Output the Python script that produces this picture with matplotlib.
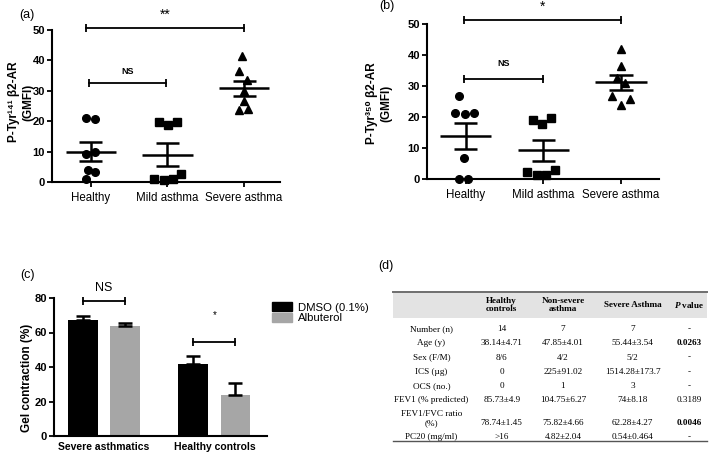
import numpy as np
import matplotlib
matplotlib.use('Agg')
import matplotlib.pyplot as plt
from matplotlib.patches import Rectangle, Patch

plt.rcParams['font.family'] = ['Liberation Sans', 'DejaVu Sans']
plt.rcParams['mathtext.fontset'] = 'custom'
plt.rcParams['mathtext.it'] = 'Liberation Serif:italic:bold'
plt.rcParams['mathtext.rm'] = 'Liberation Serif:bold'

# ---- data ----
groups = ['Healthy', 'Mild asthma', 'Severe asthma']
tyr141_healthy = [21.1, 20.8, 9.2, 9.8, 4.0, 3.4, 1.1]
tyr141_mild = [19.6, 18.7, 19.9, 2.5, 1.1, 0.5, 0.9]
tyr141_severe = [41.5, 36.4, 33.7, 30.0, 26.7, 23.6, 24.0]
tyr350_healthy = [26.7, 21.4, 20.9, 21.4, 6.7, 0.0, 0.0]
tyr350_mild = [19.1, 17.6, 19.8, 2.1, 1.4, 1.4, 3.0]
tyr350_severe = [41.8, 36.5, 32.5, 31.0, 26.7, 25.9, 24.0]

gel_groups = ['Severe asthmatics', 'Healthy controls']
dmso = [67.3, 41.9]
dmso_err = [2.5, 4.3]
albuterol = [63.5, 24.0]
albuterol_err = [1.9, 7.0]

table_header = ['Healthy\ncontrols', 'Non-severe\nasthma', 'Severe Asthma', '$P$ value']
row_labels = ['Number (n)', 'Age (y)', 'Sex (F/M)', 'ICS (µg)', 'OCS (no.)',
              'FEV1 (% predicted)', 'FEV1/FVC ratio\n(%)', 'PC20 (mg/ml)']
col_healthy = ['14', '38.14±4.71', '8/6', '0', '0', '85.73±4.9', '78.74±1.45', '>16']
col_nonsevere = ['7', '47.85±4.01', '4/2', '225±91.02', '1', '104.75±6.27', '75.82±4.66', '4.82±2.04']
col_severe = ['7', '55.44±3.54', '5/2', '1514.28±173.7', '3', '74±8.18', '62.28±4.27', '0.54±0.464']
col_p = ['-', '0.0263', '-', '-', '-', '0.3189', '0.0046', '-']
bold_p = ['0.0263', '0.0046']

# horizontal scatter spread (category units)
spread_a = [[-0.06, 0.06, -0.06, 0.06, -0.04, 0.06, -0.06],
            [-0.11, 0.01, 0.12, 0.18, -0.17, -0.05, 0.07],
            [-0.02, -0.07, 0.04, 0.0, 0.0, -0.07, 0.05]]
spread_b = [[-0.08, -0.14, -0.01, 0.11, -0.02, -0.08, 0.03],
            [-0.14, -0.02, 0.10, -0.21, -0.08, 0.03, 0.15],
            [0.0, 0.0, -0.05, 0.05, -0.12, 0.11, 0.0]]

W, H = 709, 453
fig = plt.figure(figsize=(W / 100, H / 100), dpi=100)


def box(l, r, top, bottom):
    return [l / W, 1 - bottom / H, (r - l) / W, (bottom - top) / H]


def px(x, y):
    return x / W, 1 - y / H


def style_axes(ax, xsize, xweight):
    for s in ['top', 'right']:
        ax.spines[s].set_visible(False)
    for s in ['left', 'bottom']:
        ax.spines[s].set_linewidth(1.5)
    ax.tick_params(direction='out', length=3.5, width=1.3, pad=1.5)
    ax.tick_params(axis='y', labelsize=8)
    ax.tick_params(axis='x', labelsize=xsize, pad=4)
    for t in ax.get_yticklabels():
        t.set_fontweight('bold')
    for t in ax.get_xticklabels():
        t.set_fontweight(xweight)


def bracket(ax, x1, x2, y, text, ty, size, weight='normal'):
    ax.plot([x1, x2], [y, y], color='black', lw=1.3, marker='|', ms=6, mew=1.3, clip_on=False)
    ax.text((x1 + x2) / 2, ty, text, ha='center', va='center', fontsize=size,
            fontweight=weight, clip_on=False)


def scatter_panel(ax, data, spread):
    markers = ['o', 's', '^']
    for i, vals in enumerate(data):
        vals = np.array(vals)
        ax.plot(i + np.array(spread[i]), vals, ls='none', marker=markers[i],
                ms=5.5, color='black', clip_on=False, zorder=3)
        m = vals.mean()
        sem = vals.std(ddof=1) / np.sqrt(len(vals))
        ax.hlines(m, i - 0.33, i + 0.33, color='black', lw=1.8, zorder=4)
        ax.vlines(i, m - sem, m + sem, color='black', lw=1.8, zorder=4)
        ax.hlines([m - sem, m + sem], i - 0.15, i + 0.15, color='black', lw=1.8, zorder=4)
    ax.set_xticks(range(len(groups)))
    ax.set_xticklabels(groups)
    ax.set_ylim(0, 50)
    ax.set_yticks([0, 10, 20, 30, 40, 50])
    style_axes(ax, 8.3, 'normal')


# ---- (a) ----
axa = fig.add_axes(box(52, 280, 30, 182))
scatter_panel(axa, [tyr141_healthy, tyr141_mild, tyr141_severe], spread_a)
axa.set_xlim(-0.508, 2.47)
bracket(axa, -0.06, 2.0, 50.5, '**', 54.9, 10)
bracket(axa, -0.03, 0.98, 32.6, 'NS', 36.5, 6.5, 'bold')
fig.text(*px(21, 102), 'P-Tyr¹⁴¹ β2-AR\n(GMFI)', rotation=90, ha='center', va='center',
         fontsize=8.5, fontweight='bold', multialignment='center')
fig.text(*px(27, 15), '(a)', ha='center', va='center', fontsize=9)

# ---- (b) ----
axb = fig.add_axes(box(427, 659, 24, 179))
scatter_panel(axb, [tyr350_healthy, tyr350_mild, tyr350_severe], spread_b)
axb.set_xlim((427 - 465.7) / 77.7, (659 - 465.7) / 77.7)
bracket(axb, -0.02, 2.0, 51.2, '*', 55.5, 10)
bracket(axb, -0.02, 1.0, 32.4, 'NS', 37.1, 6.5, 'bold')
fig.text(*px(379, 103), 'P-Tyr³⁵⁰ β2-AR\n(GMFI)', rotation=90, ha='center', va='center',
         fontsize=8.5, fontweight='bold', multialignment='center')
fig.text(*px(387, 6), '(b)', ha='center', va='center', fontsize=9)

# ---- (c) ----
axc = fig.add_axes(box(54, 267, 298, 436))
xc = np.arange(len(gel_groups))
off, bw = 0.19, 0.27
axc.bar(xc - off, dmso, bw, color='black', label='DMSO (0.1%)', zorder=2)
axc.bar(xc + off, albuterol, bw, color='#a6a6a6', label='Albuterol', zorder=2)
axc.errorbar(xc - off, dmso, yerr=[np.zeros(2), dmso_err], fmt='none', ecolor='black',
             elinewidth=1.8, capsize=5, capthick=1.8, zorder=3)
axc.errorbar(xc + off, albuterol, yerr=[np.zeros(2), albuterol_err], fmt='none', ecolor='black',
             elinewidth=1.8, capsize=5, capthick=1.8, zorder=3)
axc.set_xlim(-0.45, 1.475)
axc.set_ylim(0, 80)
axc.set_yticks([0, 20, 40, 60, 80])
axc.set_xticks(xc)
axc.set_xticklabels(gel_groups)
style_axes(axc, 7.5, 'bold')
axc.tick_params(axis='x', length=0, pad=4)
bracket(axc, -off, off, 78.5, 'NS', 85.8, 9)
bracket(axc, 1 - off, 1 + off, 54.4, '*', 70.1, 7)
fig.text(*px(27, 378), 'Gel contraction (%)', rotation=90, ha='center', va='center',
         fontsize=8.5, fontweight='bold')
fig.text(*px(27, 275), '(c)', ha='center', va='center', fontsize=9)
fig.legend(handles=[Patch(color='black', label='DMSO (0.1%)'),
                    Patch(color='#a6a6a6', label='Albuterol')],
           loc='upper left', bbox_to_anchor=px(272, 302), bbox_transform=fig.transFigure,
           frameon=False, fontsize=8.2, handlelength=1.75, handleheight=0.9,
           handletextpad=0.5, labelspacing=0.0, borderpad=0, borderaxespad=0)

# ---- (d) table ----
axd = fig.add_axes([0, 0, 1, 1], zorder=-1)
axd.set_xlim(0, W)
axd.set_ylim(H, 0)
axd.axis('off')
axd.add_patch(Rectangle((393, 291.7), 707 - 393, 318 - 291.7, color='#e3e3e3', lw=0))
axd.plot([393, 707], [291.7, 291.7], color='#6e6e6e', lw=1.4)
axd.plot([393, 707], [440.7, 440.7], color='#555555', lw=1.0)
col_x = [501.7, 563, 632.7, 689]
label_x = 431.5
serif = 'Liberation Serif'
fs = 6.6
for cx, h in zip(col_x, table_header):
    axd.text(cx, 305, h, ha='center', va='center', fontsize=fs, fontweight='bold',
             family=serif, linespacing=1.05)
row_y = [329, 343.3, 357.5, 371.9, 386.2, 400.5, 423.3, 437.2]
columns = [col_healthy, col_nonsevere, col_severe, col_p]
for r, (lab, y) in enumerate(zip(row_labels, row_y)):
    if '\n' in lab:
        top, bot = lab.split('\n')
        axd.text(label_x, y - 9.3, top, ha='center', va='center', fontsize=fs, family=serif)
        axd.text(label_x, y, bot, ha='center', va='center', fontsize=fs, family=serif)
    else:
        axd.text(label_x, y, lab, ha='center', va='center', fontsize=fs, family=serif)
    for cx, col in zip(col_x, columns):
        v = col[r]
        w = 'bold' if v in bold_p else 'normal'
        axd.text(cx, y, v, ha='center', va='center', fontsize=fs, family=serif, fontweight=w)
fig.text(*px(386, 266), '(d)', ha='center', va='center', fontsize=9)

fig.savefig('out.png', dpi=100)
